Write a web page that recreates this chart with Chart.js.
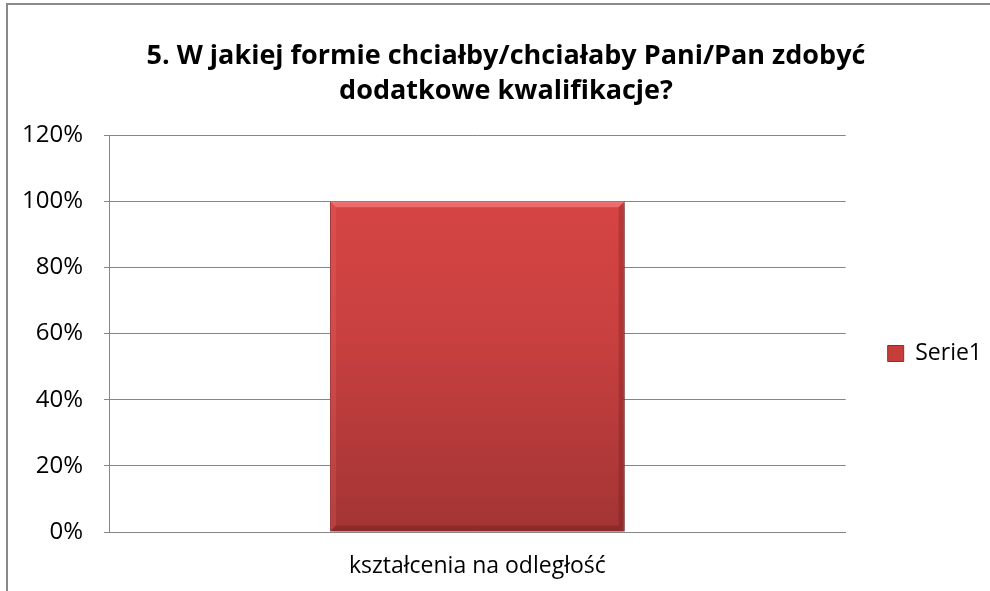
<!DOCTYPE html>
<html>
<head>
<meta charset="utf-8">
<script src="https://cdn.jsdelivr.net/npm/chart.js@4.4.0/dist/chart.umd.min.js"></script>
<style>
  html, body { margin: 0; padding: 0; background: #fff; }
  .chart-container { width: 990px; height: 591px; position: relative; }
</style>
</head>
<body>
<div class="chart-container"><canvas id="wykres" width="990" height="591"></canvas></div>
<script>
// dane z wykresu
const kategorie = ['kształcenia na odległość'];
const wartosci = [100];
const nazwaSerii = 'Serie1';
const tytul = ['5. W jakiej formie chciałby/chciałaby Pani/Pan zdobyć', 'dodatkowe kwalifikacje?'];
const osY = { min: 0, max: 120, krok: 20 };

const szary = '#868686';
const czcionka = "'Open Sans', 'Noto Sans', sans-serif";

// ramka wokol wykresu (jak w Excelu)
const ramka = {
  id: 'ramka',
  beforeDraw(chart) {
    const ctx = chart.ctx;
    ctx.save();
    ctx.strokeStyle = '#8a8a8a';
    ctx.lineWidth = 2;
    ctx.strokeRect(7, 4, 1100, 1100);
    ctx.restore();
  },
  afterLayout(chart) {
    // tytul lekko przesuniety w prawo jak w oryginale
    chart.titleBlock.left += 10;
    chart.titleBlock.right += 10;
  }
};

// cien pod slupkiem
const cien = {
  id: 'cien',
  beforeDatasetsDraw(chart) {
    const ctx = chart.ctx;
    ctx.save();
    ctx.shadowColor = 'rgba(0,0,0,0.35)';
    ctx.shadowBlur = 6;
    ctx.shadowOffsetX = 2;
    ctx.shadowOffsetY = 2;
  },
  afterDatasetsDraw(chart) {
    chart.ctx.restore();
  }
};

// fazowanie krawedzi slupka
const faza = {
  id: 'faza',
  afterDatasetsDraw(chart) {
    const ctx = chart.ctx;
    const b = 6;
    chart.getDatasetMeta(0).data.forEach(bar => {
      const l = bar.x - bar.width / 2, r = bar.x + bar.width / 2;
      const t = bar.y, d = bar.base;
      ctx.save();
      // gora
      ctx.fillStyle = 'rgba(255,140,140,0.55)';
      ctx.beginPath();
      ctx.moveTo(l, t); ctx.lineTo(r, t); ctx.lineTo(r - b, t + b); ctx.lineTo(l + b, t + b);
      ctx.closePath(); ctx.fill();
      // lewa
      ctx.fillStyle = 'rgba(255,120,120,0.18)';
      ctx.beginPath();
      ctx.moveTo(l, t); ctx.lineTo(l + b, t + b); ctx.lineTo(l + b, d - b); ctx.lineTo(l, d);
      ctx.closePath(); ctx.fill();
      // prawa
      ctx.fillStyle = 'rgba(90,20,20,0.25)';
      ctx.beginPath();
      ctx.moveTo(r, t); ctx.lineTo(r - b, t + b); ctx.lineTo(r - b, d - b); ctx.lineTo(r, d);
      ctx.closePath(); ctx.fill();
      // dol
      ctx.fillStyle = 'rgba(90,20,20,0.3)';
      ctx.beginPath();
      ctx.moveTo(l, d); ctx.lineTo(r, d); ctx.lineTo(r - b, d - b); ctx.lineTo(l + b, d - b);
      ctx.closePath(); ctx.fill();
      ctx.restore();
    });
  }
};

function gradient(context) {
  const chart = context.chart;
  const area = chart.chartArea;
  if (!area) return '#C84040';
  const g = chart.ctx.createLinearGradient(0, area.top, 0, area.bottom);
  g.addColorStop(0, '#DC4646');
  g.addColorStop(0.5, '#C94040');
  g.addColorStop(1, '#A33434');
  return g;
}

var wykres = new Chart(document.getElementById('wykres'), {
  type: 'bar',
  data: {
    labels: kategorie,
    datasets: [{
      label: nazwaSerii,
      data: wartosci,
      backgroundColor: gradient,
      borderColor: '#9a3030',
      borderWidth: 1,
      barPercentage: 0.4,
      categoryPercentage: 1
    }]
  },
  options: {
    responsive: false,
    animation: false,
    layout: { padding: { left: 0, right: -2, top: 39, bottom: 0 } },
    plugins: {
      title: {
        display: true,
        text: tytul,
        color: '#000',
        font: { family: czcionka, size: 27, weight: 'bold', lineHeight: 1.3 },
        padding: { top: 0, bottom: 26 }
      },
      legend: {
        position: 'right',
        title: { display: true, text: '', font: { size: 1, lineHeight: 1 }, padding: { top: 76, bottom: 0 } },
        labels: {
          color: '#000',
          font: { family: czcionka, size: 23 },
          boxWidth: 16,
          boxHeight: 16,
          padding: 42,
          generateLabels(chart) {
            return [{
              text: nazwaSerii,
              fillStyle: '#C63E3C',
              strokeStyle: '#8f2d2b',
              fontColor: '#000',
              lineWidth: 1,
              datasetIndex: 0
            }];
          }
        }
      },
      tooltip: { enabled: false }
    },
    scales: {
      x: {
        afterFit(scale) { scale.height = 59; },
        grid: { display: false, drawTicks: false },
        border: { display: true, color: szary, width: 1 },
        ticks: { color: '#000', font: { family: czcionka, size: 23 }, padding: 21 }
      },
      y: {
        min: osY.min,
        max: osY.max,
        afterFit(scale) { scale.width = 109; },
        grid: { color: szary, lineWidth: 1, tickLength: 5, drawTicks: true },
        border: { display: true, color: szary, width: 1 },
        ticks: {
          stepSize: osY.krok,
          color: '#000',
          font: { family: czcionka, size: 24 },
          padding: 21,
          callback: v => v + '%'
        }
      }
    }
  },
  plugins: [ramka, cien, faza]
});
</script>
</body>
</html>
